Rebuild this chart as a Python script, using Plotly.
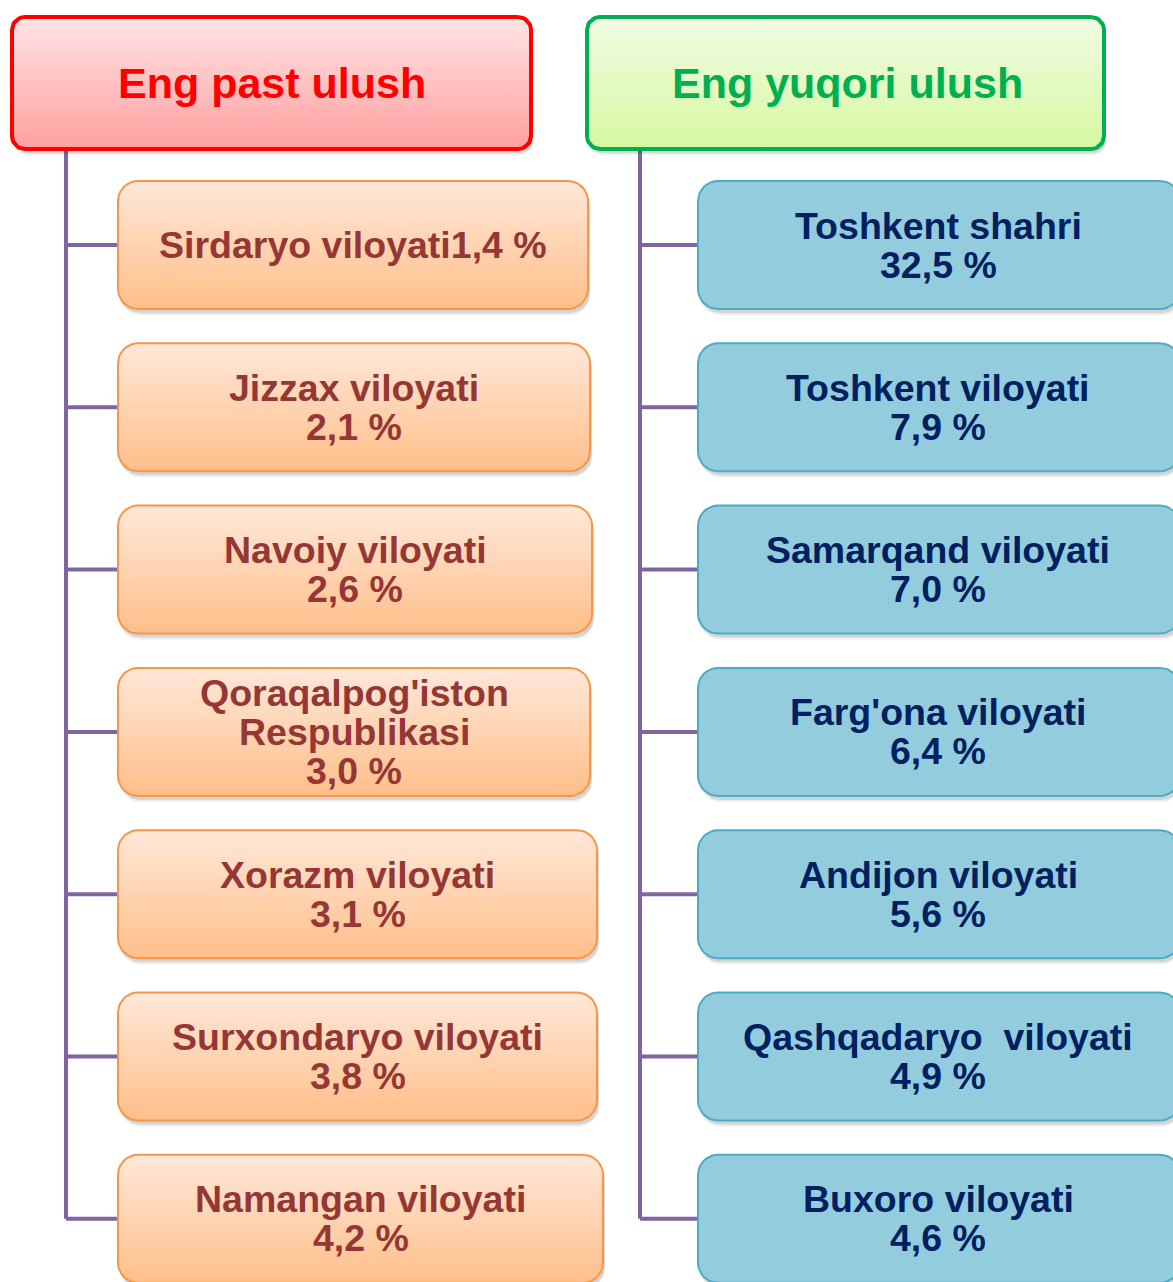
import plotly.graph_objects as go

# ---------------- data ----------------
header_low = "Eng past ulush"
header_high = "Eng yuqori ulush"

low_regions = ["Sirdaryo viloyati", "Jizzax viloyati", "Navoiy viloyati",
               "Qoraqalpog'iston\nRespublikasi", "Xorazm viloyati",
               "Surxondaryo viloyati", "Namangan viloyati"]
low_shares = [1.4, 2.1, 2.6, 3.0, 3.1, 3.8, 4.2]

high_regions = ["Toshkent shahri", "Toshkent viloyati", "Samarqand viloyati",
                "Farg'ona viloyati", "Andijon viloyati",
                "Qashqadaryo\u00a0 viloyati", "Buxoro viloyati"]
high_shares = [32.5, 7.9, 7.0, 6.4, 5.6, 4.9, 4.6]

# ---------------- layout constants ----------------
W, H = 1173, 1282
ROW_TOP0, ROW_PITCH, ROW_H = 181, 162.3, 128
LEFT_X0 = 118
LEFT_X1 = [588, 590, 592, 590, 597, 597, 603]
RIGHT_X0, RIGHT_X1 = 698, 1180
LEFT_TRUNK, RIGHT_TRUNK = 66, 640
HEAD_Y0, HEAD_Y1 = 17, 149
LINE_GAP = 39
ONE_LINE_ROWS_LOW = {0}
BODY_SIZE, HEAD_SIZE = 37.5, 43

FONT = "Liberation Sans, Arial, sans-serif"
LINE_COLOR = "#8064A2"


def fmt(v):
    return f"{v:.1f}".replace(".", ",") + " %"


def rrect(x0, y0, x1, y1, r, n=10):
    import math
    xs, ys = [], []
    corners = [(x1 - r, y0 + r, -90, 0), (x1 - r, y1 - r, 0, 90),
               (x0 + r, y1 - r, 90, 180), (x0 + r, y0 + r, 180, 270)]
    for cx, cy, a0, a1 in corners:
        for k in range(n + 1):
            a = math.radians(a0 + (a1 - a0) * k / n)
            xs.append(cx + r * math.cos(a))
            ys.append(cy + r * math.sin(a))
    xs.append(xs[0]); ys.append(ys[0])
    return xs, ys


fig = go.Figure()


def add_box(x0, y0, x1, y1, r, top_c, bot_c, border, bw):
    # soft shadow
    for dx, dy, a in [(2, 6, 0.07), (2, 4, 0.10)]:
        xs, ys = rrect(x0 + dx, y0 + dy, x1 + dx, y1 + dy, r)
        fig.add_trace(go.Scatter(x=xs, y=ys, mode="lines", fill="toself",
                                 line=dict(width=0, color="rgba(0,0,0,0)"),
                                 fillcolor=f"rgba(0,0,0,{a})",
                                 hoverinfo="skip", showlegend=False))
    xs, ys = rrect(x0, y0, x1, y1, r)
    fig.add_trace(go.Scatter(
        x=xs, y=ys, mode="lines", fill="toself",
        line=dict(width=bw, color=border),
        fillgradient=dict(type="vertical", start=y0, stop=y1,
                          colorscale=[[0, top_c], [1, bot_c]]),
        hoverinfo="skip", showlegend=False))


def add_lines(cx, cy, lines, color, size):
    n = len(lines)
    for k, t in enumerate(lines):
        fig.add_annotation(x=cx, y=cy + (k - (n - 1) / 2) * LINE_GAP, text=t,
                           showarrow=False, xanchor="center", yanchor="middle",
                           font=dict(family=FONT, size=size, color=color, weight=700))


rows = [ROW_TOP0 + i * ROW_PITCH for i in range(len(low_regions))]
centers = [t + ROW_H / 2 for t in rows]

# connector lines
for trunk, bx in [(LEFT_TRUNK, LEFT_X0), (RIGHT_TRUNK, RIGHT_X0)]:
    fig.add_trace(go.Scatter(x=[trunk, trunk], y=[HEAD_Y1, centers[-1]], mode="lines",
                             line=dict(color=LINE_COLOR, width=4),
                             hoverinfo="skip", showlegend=False))
    for c in centers:
        fig.add_trace(go.Scatter(x=[trunk, bx], y=[c, c], mode="lines",
                                 line=dict(color=LINE_COLOR, width=4),
                                 hoverinfo="skip", showlegend=False))

# headers
add_box(12, HEAD_Y0, 531, HEAD_Y1, 13, "#FFE4E4", "#FFA0A0", "#FF0000", 4)
add_lines((12 + 531) / 2, (HEAD_Y0 + HEAD_Y1) / 2, [header_low], "#FF0000", HEAD_SIZE)
add_box(587, HEAD_Y0, 1104, HEAD_Y1, 13, "#F2FCE6", "#D6F8A0", "#00B050", 4)
add_lines((587 + 1104) / 2 + 2, (HEAD_Y0 + HEAD_Y1) / 2, [header_high], "#00B050", HEAD_SIZE)

# left boxes
for i, (name, v) in enumerate(zip(low_regions, low_shares)):
    y0 = rows[i]
    add_box(LEFT_X0, y0, LEFT_X1[i], y0 + ROW_H, 20, "#FFE8D9", "#FFBF8A", "#F79646", 2)
    if i in ONE_LINE_ROWS_LOW:
        lines = [name + fmt(v)]
    else:
        lines = name.split("\n") + [fmt(v)]
    add_lines((LEFT_X0 + LEFT_X1[i]) / 2, centers[i], lines, "#953735", BODY_SIZE)

# right boxes
for i, (name, v) in enumerate(zip(high_regions, high_shares)):
    y0 = rows[i]
    add_box(RIGHT_X0, y0, RIGHT_X1, y0 + ROW_H, 20, "#93CDDD", "#93CDDD", "#4BACC6", 2)
    lines = name.split("\n") + [fmt(v)]
    add_lines(938, centers[i], lines, "#002060", BODY_SIZE)

fig.update_layout(
    width=W, height=H, autosize=False,
    margin=dict(l=0, r=0, t=0, b=0),
    paper_bgcolor="white", plot_bgcolor="white",
    xaxis=dict(range=[0, W], visible=False, fixedrange=True),
    yaxis=dict(range=[H, 0], visible=False, fixedrange=True),
    showlegend=False,
)

fig.write_html("out.html", post_script="document.body.style.margin='0';",
               config={"displayModeBar": False})
